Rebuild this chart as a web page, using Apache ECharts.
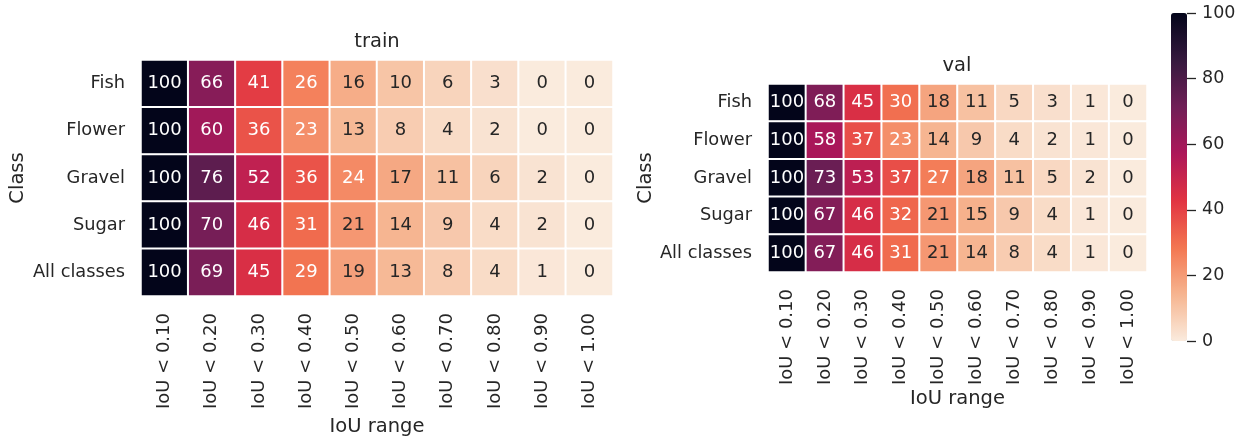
<!DOCTYPE html>
<html>
<head>
<meta charset="utf-8">
<script src="https://cdn.jsdelivr.net/npm/echarts@6/dist/echarts.min.js"></script>
<style>
html,body{margin:0;padding:0;background:#fff;}
#c{width:1243px;height:437px;}
</style>
</head>
<body>
<div id="c"></div>
<script>
var iouLabels = ['IoU < 0.10','IoU < 0.20','IoU < 0.30','IoU < 0.40','IoU < 0.50','IoU < 0.60','IoU < 0.70','IoU < 0.80','IoU < 0.90','IoU < 1.00'];
var classes = ['Fish','Flower','Gravel','Sugar','All classes'];
var trainFish   = [100,66,41,26,16,10,6,3,0,0];
var trainFlower = [100,60,36,23,13,8,4,2,0,0];
var trainGravel = [100,76,52,36,24,17,11,6,2,0];
var trainSugar  = [100,70,46,31,21,14,9,4,2,0];
var trainAll    = [100,69,45,29,19,13,8,4,1,0];
var valFish   = [100,68,45,30,18,11,5,3,1,0];
var valFlower = [100,58,37,23,14,9,4,2,1,0];
var valGravel = [100,73,53,37,27,18,11,5,2,0];
var valSugar  = [100,67,46,32,21,15,9,4,1,0];
var valAll    = [100,67,46,31,21,14,8,4,1,0];
var colorbarTicks = [0,20,40,60,80,100];

var trainRows = [trainFish,trainFlower,trainGravel,trainSugar,trainAll];
var valRows = [valFish,valFlower,valGravel,valSugar,valAll];
var rocketR = ['#FAEBDD','#F6B48F','#F37651','#E13342','#AD1759','#701F57','#35193E','#03051A'];
var TXT = '#262626';
var FONT = 'DejaVu Sans';

function build(rows){
  var d = [];
  rows.forEach(function(r, yi){
    r.forEach(function(v, xi){
      d.push({value:[xi, yi, v], label:{color: v >= 22 ? '#ffffff' : TXT}});
    });
  });
  return d;
}

var grids = [
  {left:141, top:60, width:472, height:236, containLabel:false, outerBoundsMode:'none'},
  {left:768, top:84, width:379, height:188, containLabel:false, outerBoundsMode:'none'},
  {left:1171, top:13, width:16, height:328, containLabel:false, outerBoundsMode:'none'}
];

function xAx(gi, gap){
  return {type:'category', gridIndex:gi, data:iouLabels, position:'bottom',
    axisLine:{show:false}, axisTick:{show:false}, splitArea:{show:false},
    axisLabel:{rotate:90, fontSize:18, fontFamily:FONT, color:TXT, margin:17},
    name:'IoU range', nameLocation:'middle', nameGap:gap,
    nameTextStyle:{fontSize:19.5, fontFamily:FONT, color:TXT}};
}
function yAx(gi, gap){
  return {type:'category', gridIndex:gi, data:classes, inverse:true,
    axisLine:{show:false}, axisTick:{show:false},
    axisLabel:{fontSize:17.8, fontFamily:FONT, color:TXT, margin:16},
    name:'Class', nameLocation:'middle', nameGap:gap, nameRotate:90,
    nameTextStyle:{fontSize:19.5, fontFamily:FONT, color:TXT}};
}

var chart = echarts.init(document.getElementById('c'));
chart.setOption({
  backgroundColor:'#ffffff',
  animation:false,
  grid: grids,
  xAxis: [xAx(0,111), xAx(1,115),
    {type:'value', gridIndex:2, show:false, min:0, max:1}],
  yAxis: [yAx(0,113), yAx(1,110),
    {type:'value', gridIndex:2, position:'right', min:0, max:100, interval:20,
     axisLine:{show:false, onZero:false}, splitLine:{show:false},
     axisTick:{show:true, length:9, lineStyle:{color:TXT, width:1.3}},
     axisLabel:{fontSize:17.5, fontFamily:FONT, color:TXT, margin:15,
       formatter:function(v){return colorbarTicks.indexOf(v) >= 0 ? String(v) : '';}}}],
  visualMap: {type:'continuous', min:0, max:100, seriesIndex:[0,1], calculable:false,
    show:true, left:1171, top:13, itemWidth:16, itemHeight:328, padding:0,
    text:null, inRange:{color:rocketR}, hoverLink:false},
  graphic: [
    {type:'text', style:{text:'train', x:377, y:42, align:'center', verticalAlign:'middle', fontSize:19.5, fontFamily:FONT, fill:TXT}},
    {type:'text', style:{text:'val', x:957, y:66, align:'center', verticalAlign:'middle', fontSize:19.5, fontFamily:FONT, fill:TXT}}
  ],
  series: [
    {type:'heatmap', xAxisIndex:0, yAxisIndex:0, data:build(trainRows),
     label:{show:true, fontSize:18, fontFamily:FONT},
     itemStyle:{borderColor:'#ffffff', borderWidth:2}},
    {type:'heatmap', xAxisIndex:1, yAxisIndex:1, data:build(valRows),
     label:{show:true, fontSize:18, fontFamily:FONT},
     itemStyle:{borderColor:'#ffffff', borderWidth:2}}
  ]
});
</script>
</body>
</html>
